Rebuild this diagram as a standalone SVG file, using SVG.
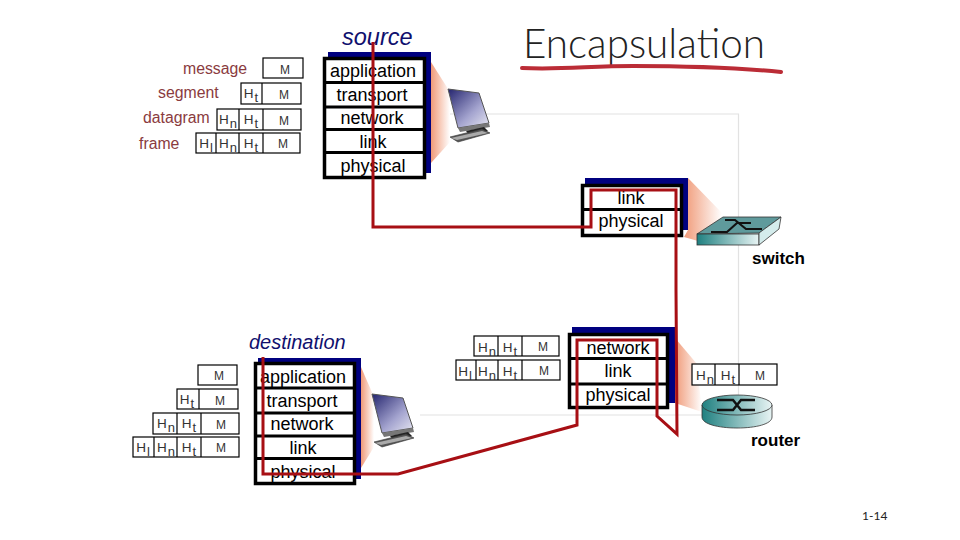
<svg xmlns="http://www.w3.org/2000/svg" xmlns:xlink="http://www.w3.org/1999/xlink" width="960" height="540" viewBox="0 0 960 540">
<style>
text{font-family:"Liberation Sans",Arial,sans-serif}
.blue{fill:#00007f}
.stk{fill:#fff;stroke:#000;stroke-width:3.5}
.div{stroke:#000;stroke-width:3;fill:none}
.lbl{font-size:18px;text-anchor:middle;fill:#000}
.cap{font-size:15.800px;fill:#8a3b3e}
.box{fill:#fff;stroke:#000;stroke-width:1.2}
.h{font-size:13.500px;fill:#333;text-anchor:middle}
.m{font-size:12px;fill:#333;text-anchor:middle}
.s{font-size:13px}
.ttl{font-style:italic;fill:#10106e}
.dev{font-size:17px;font-weight:bold;fill:#000}
.frame{stroke:#e2e2e2;stroke-width:1.2;fill:none}
.red{fill:none;stroke:#a70f14;stroke-width:3;stroke-linejoin:miter}
</style>
<defs>
<linearGradient id="cone" x1="0" y1="0" x2="1" y2="0"><stop offset="0" stop-color="#f09a78"/><stop offset="1" stop-color="#fff"/></linearGradient>
<linearGradient id="scr" x1="0" y1="0" x2="1" y2="1"><stop offset="0" stop-color="#24246e"/><stop offset=".6" stop-color="#a4a4cf"/><stop offset="1" stop-color="#e8e8f2"/></linearGradient>
<linearGradient id="teal" x1="0" y1="0" x2="1" y2="0"><stop offset="0" stop-color="#1f8080"/><stop offset="1" stop-color="#e8f4f4"/></linearGradient>
<g id="pc">
<polygon points="448,89 479,93 489,123 458,128" fill="url(#scr)" stroke="#555" stroke-width="1"/>
<polygon points="458,128 489,123 490,127 460,132" fill="#777"/>
<polygon points="466,131 484,127 488,131 470,136" fill="#222"/>
<polygon points="450,137 482,129 490,133 458,142" fill="#555" stroke="#333" stroke-width=".6"/>
<polygon points="451,138 482,131 488,133 457,140" fill="#aaa"/>
</g>
</defs>
<g id="frame-lines">
<path class="frame" d="M447 114H738.500V415H420"/>
</g>
<g id="title">
<text x="523" y="58" font-size="41" font-weight="300" textLength="242" lengthAdjust="spacingAndGlyphs" style="font-family:Lato,'Open Sans',sans-serif" fill="#222">Encapsulation</text>
<path d="M522 68C560 70 590 66 633 66C690 66 740 68 781 72" fill="none" stroke="#bb2c36" stroke-width="4" stroke-linecap="round"/>
</g>
<g id="source-headers">
<text class="cap" x="183" y="73.500">message</text>
<text class="cap" x="158" y="97.500">segment</text>
<text class="cap" x="143" y="123">datagram</text>
<text class="cap" x="139" y="148.500">frame</text>
<rect class="box" x="263" y="58" width="40" height="20"/><text class="m" x="285" y="74">M</text>
<rect class="box" x="241" y="83" width="60" height="21"/><path class="box" d="M262 83V104"/>
<text class="h" x="251" y="98">H<tspan class="s" dx="1" dy="4">t</tspan></text><text class="m" x="284" y="99">M</text>
<rect class="box" x="217" y="109" width="84" height="21"/><path class="box" d="M239 109V130M263 109V130"/>
<text class="h" x="228" y="124">H<tspan class="s" dx="1" dy="4">n</tspan></text><text class="h" x="251" y="124">H<tspan class="s" dx="1" dy="4">t</tspan></text><text class="m" x="284" y="125">M</text>
<rect class="box" x="196" y="133" width="104" height="20"/><path class="box" d="M216 133V153M239 133V153M263 133V153"/>
<text class="h" x="206" y="148">H<tspan class="s" dx="1" dy="4">l</tspan></text><text class="h" x="228" y="148">H<tspan class="s" dx="1" dy="4">n</tspan></text><text class="h" x="251" y="148">H<tspan class="s" dx="1" dy="4">t</tspan></text><text class="m" x="283" y="148">M</text>
</g>
<g id="source">
<text class="ttl" x="342" y="45" font-size="23.500">source</text>
<polygon points="431,62 450,92 450,142 431,163" fill="url(#cone)"/>
<use xlink:href="#pc" href="#pc"/>
<rect class="blue" x="328" y="52" width="103" height="121"/>
<rect class="stk" x="324.500" y="58.500" width="100" height="119"/>
<path class="div" d="M324 82.500H425M324 107H425M324 129.500H425M324 152.500H425"/>
<text class="lbl" x="373" y="77">application</text>
<text class="lbl" x="372" y="101">transport</text>
<text class="lbl" x="372" y="124">network</text>
<text class="lbl" x="373" y="148">link</text>
<text class="lbl" x="373" y="172">physical</text>
</g>
<g id="switch">
<polygon points="688,178 722,213 722,240 698,241 684,237 688,230" fill="url(#cone)"/>
<rect class="blue" x="585" y="178" width="103" height="52"/>
<rect class="stk" x="582.500" y="185.500" width="99" height="50"/>
<path class="div" d="M582 209.500H682"/>
<text class="lbl" x="631" y="204">link</text>
<text class="lbl" x="631" y="227">physical</text>
<polygon points="697,234 723,217 781,217 759,233" fill="#5f9a9c" stroke="#333" stroke-width=".8"/>
<rect x="697" y="234" width="62" height="11" fill="url(#teal)" stroke="#333" stroke-width=".8"/>
<polygon points="759,233 781,217 779,229 759,245" fill="#d4ecec" stroke="#333" stroke-width=".8"/>
<path d="M711 232H727L737 223H751M725 220H735L746 229H762" fill="none" stroke="#111" stroke-width="2.200"/>
<text class="dev" x="752" y="264">switch</text>
</g>
<g id="dest-headers">
<rect class="box" x="198" y="365" width="39" height="20"/><text class="m" x="219" y="380">M</text>
<rect class="box" x="177" y="389" width="61" height="20"/><path class="box" d="M199 389V409"/>
<text class="h" x="187" y="404">H<tspan class="s" dx="1" dy="4">t</tspan></text><text class="m" x="220" y="405">M</text>
<rect class="box" x="153" y="413" width="86" height="21"/><path class="box" d="M177 413V434M201 413V434"/>
<text class="h" x="166" y="428">H<tspan class="s" dx="1" dy="4">n</tspan></text><text class="h" x="189" y="428">H<tspan class="s" dx="1" dy="4">t</tspan></text><text class="m" x="221" y="429">M</text>
<rect class="box" x="133" y="437" width="106" height="20"/><path class="box" d="M154 437V457M177 437V457M201 437V457"/>
<text class="h" x="143" y="452">H<tspan class="s" dx="1" dy="4">l</tspan></text><text class="h" x="166" y="452">H<tspan class="s" dx="1" dy="4">n</tspan></text><text class="h" x="189" y="452">H<tspan class="s" dx="1" dy="4">t</tspan></text><text class="m" x="221" y="452">M</text>
</g>
<g id="destination">
<text class="ttl" x="249" y="349" font-size="20">destination</text>
<polygon points="361,367 374,397 374,447 361,468" fill="url(#cone)"/>
<use xlink:href="#pc" href="#pc" transform="translate(-76 305)"/>
<rect class="blue" x="258" y="358" width="103" height="121"/>
<rect class="stk" x="255.500" y="363.500" width="99" height="120"/>
<path class="div" d="M255 388H355M255 413H355M255 436H355M255 458.500H355"/>
<text class="lbl" x="303" y="383">application</text>
<text class="lbl" x="302" y="407">transport</text>
<text class="lbl" x="302" y="430">network</text>
<text class="lbl" x="303" y="454">link</text>
<text class="lbl" x="303" y="478">physical</text>
</g>
<g id="router-headers">
<rect class="box" x="474" y="336" width="85" height="20"/><path class="box" d="M498 336V356M522 336V356"/>
<text class="h" x="487" y="352">H<tspan class="s" dx="1" dy="4">n</tspan></text><text class="h" x="510" y="352">H<tspan class="s" dx="1" dy="4">t</tspan></text><text class="m" x="543" y="351">M</text>
<rect class="box" x="456" y="360" width="104" height="20"/><path class="box" d="M476 360V380M498 360V380M522 360V380"/>
<text class="h" x="465" y="376">H<tspan class="s" dx="1" dy="4">l</tspan></text><text class="h" x="487" y="376">H<tspan class="s" dx="1" dy="4">n</tspan></text><text class="h" x="510" y="376">H<tspan class="s" dx="1" dy="4">t</tspan></text><text class="m" x="544" y="375">M</text>
</g>
<g id="router">
<polygon points="675,338 697,364 702,412 675,403" fill="url(#cone)"/>
<rect class="blue" x="572" y="327" width="103" height="76"/>
<rect class="stk" x="569.500" y="334.500" width="98" height="73"/>
<path class="div" d="M569 358.500H668M569 384H668"/>
<text class="lbl" x="618" y="354">network</text>
<text class="lbl" x="618" y="377">link</text>
<text class="lbl" x="618" y="401">physical</text>
<path d="M702 405V417C702 424 718 428 737 428C756 428 772 424 772 417V405" fill="url(#teal)" stroke="#333" stroke-width=".8"/>
<ellipse cx="737" cy="405" rx="35" ry="10" fill="url(#teal)" stroke="#333" stroke-width=".8"/>
<path d="M717 400H733L741 410H755M717 410H733L741 400H755" fill="none" stroke="#111" stroke-width="2.500"/>
<rect class="box" x="692" y="364" width="85" height="21"/><path class="box" d="M715 364V385M739 364V385"/>
<text class="h" x="705" y="380">H<tspan class="s" dx="1" dy="4">n</tspan></text><text class="h" x="728" y="380">H<tspan class="s" dx="1" dy="4">t</tspan></text><text class="m" x="760" y="380">M</text>
<text class="dev" x="751" y="446">router</text>
</g>
<g id="connectors">
<path class="red" d="M373 42V227H591V190H676V290L677 434L657 416V340H577V425L398 474H263V357"/>
</g>
<text x="862" y="520" font-size="12" style="font-family:Lato,'Open Sans',sans-serif" fill="#222">1-14</text>
</svg>
